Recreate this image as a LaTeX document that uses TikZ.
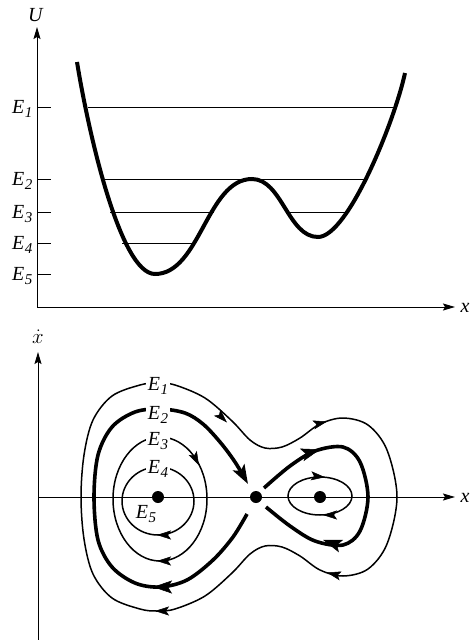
\documentclass[tikz,border=0pt]{standalone}
\usepackage{fontspec}
\setmainfont{Liberation Serif}
\usetikzlibrary{arrows.meta}
\newcommand\Elab[1]{\textit{E}\kern0.5pt\raisebox{-0.45ex}{\fontsize{15}{15}\selectfont\textit{#1}}}
\begin{document}
\begin{tikzpicture}[x=1pt,y=-1pt,
  axis/.style={line width=1pt,-{Stealth[length=12pt,width=7pt,inset=2pt]}},
  lvl/.style={line width=1pt},
  pot/.style={line width=4pt},
  orb/.style={line width=1.5pt},
  sepx/.style={line width=3.6pt},
  tipthin/.style={line width=0.5pt,-{Stealth[length=14pt,width=9pt,inset=3pt]}},
  tipthick/.style={line width=0.5pt,-{Stealth[length=19pt,width=13pt,inset=4pt]}},
  lab/.style={font=\fontsize{20}{20}\selectfont, inner sep=1.5pt},
  dot/.style={circle, fill, inner sep=0pt, minimum size=12pt}]
\useasboundingbox (0,0) rectangle (469,640);

% ---------- potential plot ----------
\coordinate (Uo) at (37,307);
\coordinate (Ut) at (37,27);
\coordinate (Xt) at (455,307);
\draw[axis] (Uo) -- (Ut);
\draw[axis] (Uo) -- (Xt);
\node[lab, anchor=base] (Ulab) at (36,21) {\textit{U}};
\node[lab, anchor=base west] (xlab1) at (459,312) {\textit{x}};

\foreach \n/\y in {1/107,2/179,3/212,4/243,5/274}{
  \draw[lvl] (37,\y) -- (51,\y);
  \node[lab, anchor=base east] (tE\n) at (34,\y+6.5) {\Elab{\n}};
}
\draw[lvl] (88,107) -- (393,107);
\draw[lvl] (101,179) -- (367,179);
\draw[lvl] (110,212) -- (214,212);
\draw[lvl] (290,212) -- (348,212);
\draw[lvl] (122,243) -- (194,243);

\draw[pot] (77,62) .. controls (88,130) and (120,274) .. (155,274)
  .. controls (200,274) and (207,179) .. (252,179)
  .. controls (282,179) and (288,237) .. (318,237)
  .. controls (348,237) and (395,120) .. (405,73);

% ---------- phase portrait ----------
\coordinate (Vo) at (38,640);
\coordinate (Vt) at (38,352);
\coordinate (Ho) at (38,497);
\coordinate (Ht) at (455,497);
\draw[axis] (Vo) -- (Vt);
\draw[axis] (Ho) -- (Ht);
\node[lab, anchor=base] (xdlab) at (38,343) {$\dot{x}$};
\node[lab, anchor=base west] (xlab2) at (459,502) {\textit{x}};

% E1 outer orbit
\draw[orb] plot[smooth cycle, tension=0.55] coordinates {
  (81,497) (84,455) (93,420) (112,396) (140,385) (157,383) (175,385)
  (205,398) (232,421) (250,440) (265,448) (282,447) (300,438) (320,424)
  (343,418) (368,425) (387,450) (397,497) (387,544) (368,569) (343,576)
  (320,570) (300,556) (282,547) (265,546) (250,554) (232,573) (205,596)
  (175,609) (157,611) (140,609) (112,598) (93,574) (84,539)};

% E2 separatrix, left loop
\draw[sepx, -{Stealth[length=19pt,width=13pt,inset=4pt]}] plot[smooth, tension=0.55] coordinates {
  (247,514) (233,537) (213,560) (187,580) (160,587) (135,583) (112,567)
  (98,540) (94,497) (98,455) (112,427) (135,412) (160,409) (185,413)
  (203,424) (220,442) (235,462) (248,484)};
% E2 separatrix, right loop
\draw[sepx] plot[smooth, tension=0.55] coordinates {
  (264,488) (290,466) (315,451) (343,447) (360,462) (368,497) (360,531)
  (343,545) (315,541) (290,526) (266,507)};

% E3, E4 and inner right orbit
\draw[orb] (160,499) ellipse [x radius=47pt, y radius=62pt];
\draw[orb] (158,501) ellipse [x radius=36pt, y radius=34pt];
\draw[orb] (320,496) ellipse [x radius=32pt, y radius=19pt];

% arrowheads
\draw[tipthin] (225,420.5) -- (227,422.5);
\draw[tipthin] (325,422) -- (327,421.5);
\draw[tipthin] (329,573) -- (327,572.5);
\draw[tipthin] (157,611) -- (155,611);
\draw[tipthin] (198,463.5) -- (199,465.5);
\draw[tipthin] (159,561) -- (157,561);
\draw[tipthin] (159,535) -- (157,535);
\draw[tipthin] (323,477) -- (325,477.2);
\draw[tipthin] (325,515) -- (323,515);
\draw[tipthick] (155,587) -- (153,587);
\draw[tipthick] (318,450) -- (320,449.4);
\draw[tipthick] (325,540.5) -- (323,539.8);

% labels on the orbits
\node[lab, fill=white, anchor=base] (pE1) at (158,390) {\Elab{1}};
\node[lab, fill=white, anchor=base] (pE2) at (158,419) {\Elab{2}};
\node[lab, fill=white, anchor=base] (pE3) at (158,445) {\Elab{3}};
\node[lab, fill=white, anchor=base] (pE4) at (158,473) {\Elab{4}};
\node[lab, anchor=base] (pE5) at (146,518) {\Elab{5}};

% fixed points
\node[dot] (c1) at (158,497) {};
\node[dot] (s) at (256,497) {};
\node[dot] (c2) at (320,497) {};
\end{tikzpicture}
\end{document}
